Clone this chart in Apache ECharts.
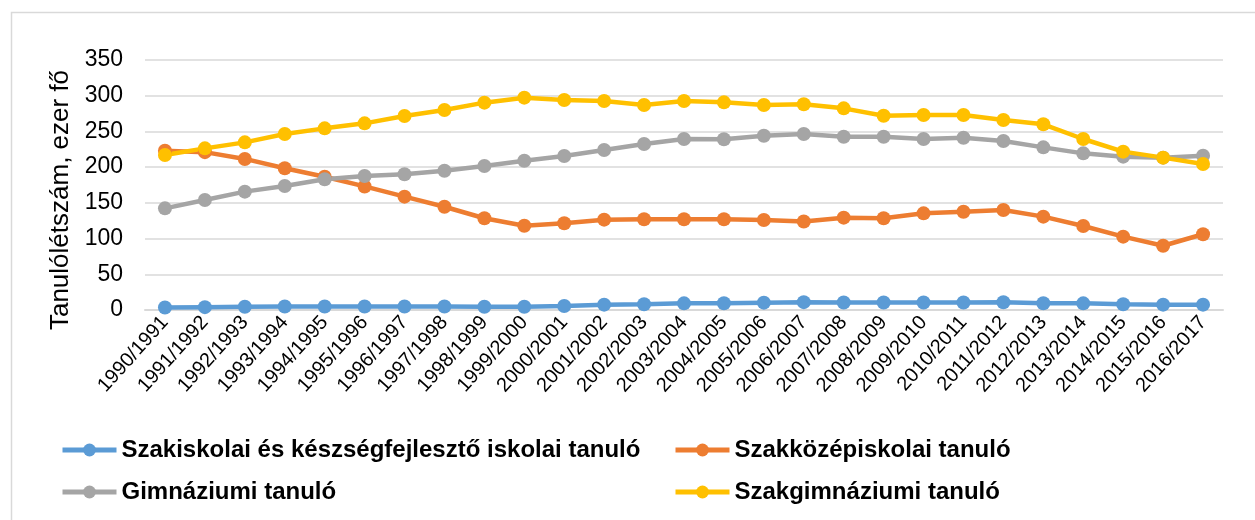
<!DOCTYPE html>
<html>
<head>
<meta charset="utf-8">
<script src="https://cdn.jsdelivr.net/npm/echarts@6/dist/echarts.min.js"></script>
<style>
    html, body { margin: 0; padding: 0; background: #fff; }
    #main { width: 1255px; height: 520px; }
</style>
</head>
<body>
<div id="main"></div>
<script>
// tanévek
var years = ['1990/1991', '1991/1992', '1992/1993', '1993/1994', '1994/1995', '1995/1996', '1996/1997',
    '1997/1998', '1998/1999', '1999/2000', '2000/2001', '2001/2002', '2002/2003', '2003/2004',
    '2004/2005', '2005/2006', '2006/2007', '2007/2008', '2008/2009', '2009/2010', '2010/2011',
    '2011/2012', '2012/2013', '2013/2014', '2014/2015', '2015/2016', '2016/2017'];

// ezer fő
var szakiskolai = [3.5, 4, 4.5, 5, 5, 5, 5, 5, 4.5, 4.5, 5.5, 7.5, 8, 9.3, 9.5, 10.3, 11, 10.5, 10.5, 10.5,
    10.5, 10.8, 9.5, 9.3, 8, 7.5, 7.5];
var szakkozep = [223, 221, 211.5, 198.5, 186.5, 173, 158.7, 144.6, 128.5, 118, 121.5, 126.5, 127, 127, 127,
    126, 124, 129.3, 128.5, 135.3, 137.5, 140, 130.7, 117.6, 102.7, 90, 106];
var gimnazium = [142.3, 154, 165.7, 173.6, 183, 187.6, 190, 195, 201.6, 209, 215.6, 224, 232.4, 239.4, 239,
    244, 246.5, 242.6, 242.6, 239.4, 241.2, 236.6, 227.7, 219.3, 214.7, 213.3, 216];
var szakgimn = [217, 226.3, 234.7, 246.4, 254.3, 261.3, 271.5, 280, 290.3, 297.3, 294, 292.6, 287, 292.6,
    290.7, 287, 288, 282.3, 272, 273, 273, 266, 260, 239.4, 221.7, 213.3, 204.4];

var seriesNames = ['Szakiskolai és készségfejlesztő iskolai tanuló', 'Szakközépiskolai tanuló',
    'Gimnáziumi tanuló', 'Szakgimnáziumi tanuló'];
var colors = ['#5B9BD5', '#ED7D31', '#A5A5A5', '#FFC000'];

var font = "'Liberation Sans', Arial, sans-serif";

var myChart = echarts.init(document.getElementById('main'));

function makeLine(name, data, color) {
    return {
        name: name,
        type: 'line',
        data: data,
        symbol: 'circle',
        symbolSize: 14,
        showSymbol: true,
        lineStyle: { width: 4.5, color: color },
        itemStyle: { color: color },
        animation: false
    };
}

var legendText = {
    color: '#000',
    fontSize: 24,
    fontWeight: 'bold',
    fontFamily: font,
    lineHeight: 24
};

function makeLegend(left, names) {
    return {
        orient: 'vertical',
        left: left,
        top: 438,
        padding: 0,
        itemWidth: 54,
        itemHeight: 16,
        itemGap: 18,
        lineStyle: { width: 5 },
        data: names,
        textStyle: legendText
    };
}

option = {
    backgroundColor: '#fff',
    color: colors,
    graphic: [{
        type: 'rect',
        left: 9,
        top: 10,
        shape: { width: 1270, height: 530 },
        style: { fill: 'none', stroke: '#d9d9d9', lineWidth: 1.5 },
        silent: true
    }],
    legend: [
        makeLegend(60, [seriesNames[0], seriesNames[2]]),
        makeLegend(673, [seriesNames[1], seriesNames[3]])
    ],
    grid: {
        left: 145,
        right: 32,
        top: 60,
        bottom: 210
    },
    xAxis: {
        type: 'category',
        data: years,
        boundaryGap: true,
        axisLine: { lineStyle: { color: '#d9d9d9', width: 2 } },
        axisTick: { show: false },
        axisLabel: {
            rotate: 48,
            interval: 0,
            margin: 9,
            color: '#000',
            fontSize: 20,
            fontFamily: font
        }
    },
    yAxis: {
        type: 'value',
        min: 0,
        max: 350,
        interval: 50,
        name: 'Tanulólétszám, ezer fő',
        nameLocation: 'middle',
        nameGap: 67,
        nameTextStyle: {
            color: '#000',
            fontSize: 26,
            fontFamily: font,
            padding: [0, 30, 0, 0]
        },
        axisLine: { show: false },
        axisTick: { show: false },
        splitLine: { lineStyle: { color: '#d9d9d9', width: 1.5 } },
        axisLabel: {
            margin: 22,
            color: '#000',
            fontSize: 23,
            fontFamily: font
        }
    },
    series: [
        makeLine(seriesNames[0], szakiskolai, colors[0]),
        makeLine(seriesNames[1], szakkozep, colors[1]),
        makeLine(seriesNames[2], gimnazium, colors[2]),
        makeLine(seriesNames[3], szakgimn, colors[3])
    ]
};
myChart.setOption(option);
</script>
</body>
</html>
